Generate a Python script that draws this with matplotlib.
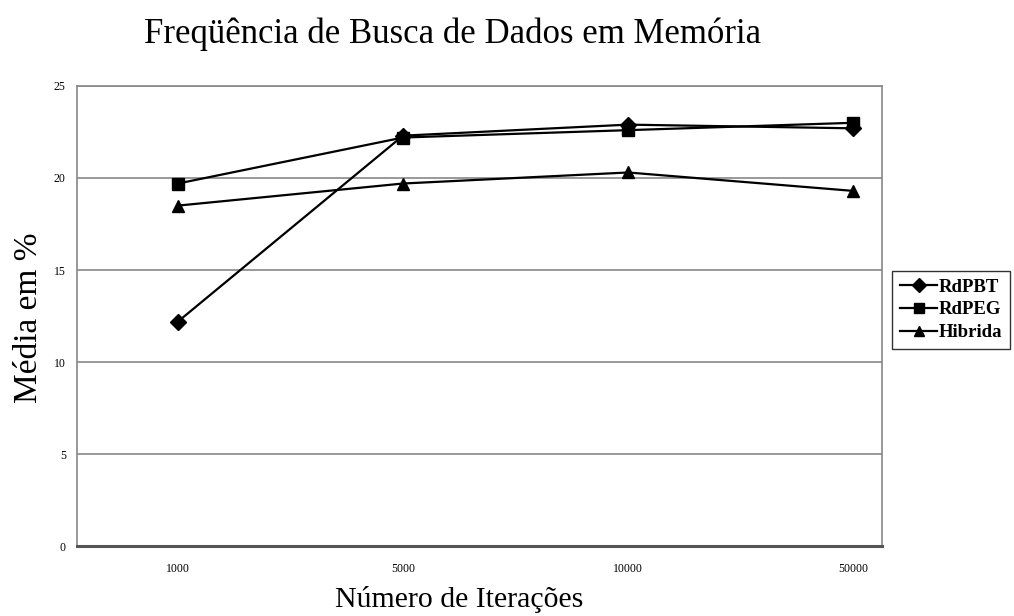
import matplotlib.pyplot as plt
import numpy as np

# Dados
iteracoes = ['1000', '5000', '10000', '50000']
rdpbt = [12.2, 22.3, 22.9, 22.7]
rdpeg = [19.7, 22.2, 22.6, 23.0]
hibrida = [18.5, 19.7, 20.3, 19.3]

plt.rcParams['font.family'] = ['Liberation Serif', 'DejaVu Serif']

fig = plt.figure(figsize=(10.14, 6.16), dpi=100)
ax = fig.add_axes([0.0759, 0.1136, 0.794, 0.7468])

x = np.arange(len(iteracoes))
ax.plot(x, rdpbt, color='k', marker='D', markersize=8, lw=1.6, label='RdPBT')
ax.plot(x, rdpeg, color='k', marker='s', markersize=8, lw=1.6, label='RdPEG')
ax.plot(x, hibrida, color='k', marker='^', markersize=8, lw=1.6, label='Hibrida')

ax.set_xlim(-0.449, 3.129)
ax.set_ylim(0, 25)
ax.set_yticks([0, 5, 10, 15, 20, 25])
ax.set_xticks(x)
ax.set_xticklabels(iteracoes)
ax.tick_params(length=0, labelsize=8.5, pad=12)
ax.tick_params(axis='y', pad=8)
ax.yaxis.grid(True, color='#888888', lw=1.2)
ax.set_axisbelow(True)
for s in ax.spines.values():
    s.set_color('#888888')
    s.set_linewidth(1.2)
ax.spines['bottom'].set_color('#555555')
ax.spines['bottom'].set_linewidth(2.2)

fig.text(0.446, 0.945, 'Freqüência de Busca de Dados em Memória',
         ha='center', va='center', fontsize=25)
fig.text(0.453, 0.026, 'Número de Iterações', ha='center', va='center',
         fontsize=21.5)
fig.text(0.028, 0.484, 'Média em %', ha='center', va='center',
         rotation=90, fontsize=24)

fig.legend(loc='upper left', bbox_to_anchor=(0.880, 0.560), frameon=True,
           fancybox=False, edgecolor='k', handlelength=2.0, handletextpad=0.1,
           borderpad=0.4, labelspacing=0.3, borderaxespad=0,
           prop={'weight': 'bold', 'size': 13.5}, markerscale=0.85)

plt.savefig('out.png')
